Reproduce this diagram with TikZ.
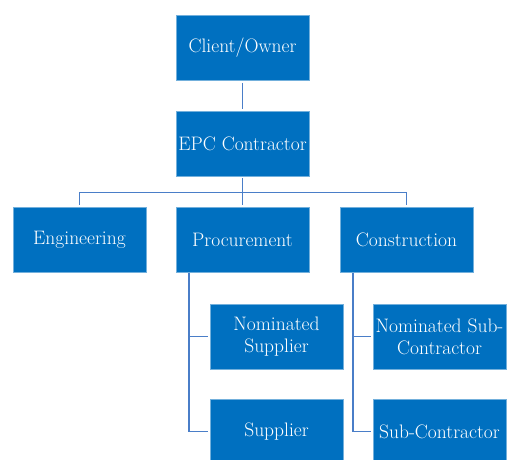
\documentclass[tikz,border=0pt]{standalone}
\definecolor{boxblue}{RGB}{0,112,192}
\definecolor{lineblue}{RGB}{74,126,200}
\begin{document}
\begin{tikzpicture}[x=1pt,y=-1pt,
  box/.style={rectangle,fill=boxblue,draw=boxblue!55!white,line width=0.6pt,
    minimum width=133pt,minimum height=65pt,inner sep=1pt,text=white,
    align=center,font=\fontsize{19.5}{22}\selectfont},
  link/.style={draw=lineblue,line width=1.7pt,shorten <=2pt,shorten >=2pt}]
\clip (0,0) rectangle (507,460);
\node (client) at (242.5,48) [box] {Client/Owner};
\node (epc) at (242.5,143.5) [box] {EPC Contractor};
\node (eng) at (79.5,240) [box] {Engineering};
\node (proc) at (242.5,240) [box] {Procurement};
\node (cons) at (406.5,240) [box] {Construction};
\node (nsup) at (276.5,336.5) [box] {Nominated\\Supplier};
\node (sup) at (276.5,431.5) [box] {Supplier};
\node (nsub) at (439.5,336.5) [box] {Nominated Sub-\\Contractor};
\node (sub) at (439.5,431.5) [box] {Sub-Contractor};
\coordinate (bar) at (242.5,192.5);
\coordinate (proctrunk) at ([xshift=13pt]proc.south west);
\coordinate (construnk) at ([xshift=13pt]cons.south west);
\draw[link] (client) -- (epc);
\draw[link] (epc) -- (proc);
\draw[link] (eng) |- (bar) -| (cons);
\draw[link,shorten <=0pt] (proctrunk) |- (nsup);
\draw[link,shorten <=0pt] (proctrunk) |- (sup);
\draw[link,shorten <=0pt] (construnk) |- (nsub);
\draw[link,shorten <=0pt] (construnk) |- (sub);
\end{tikzpicture}
\end{document}
